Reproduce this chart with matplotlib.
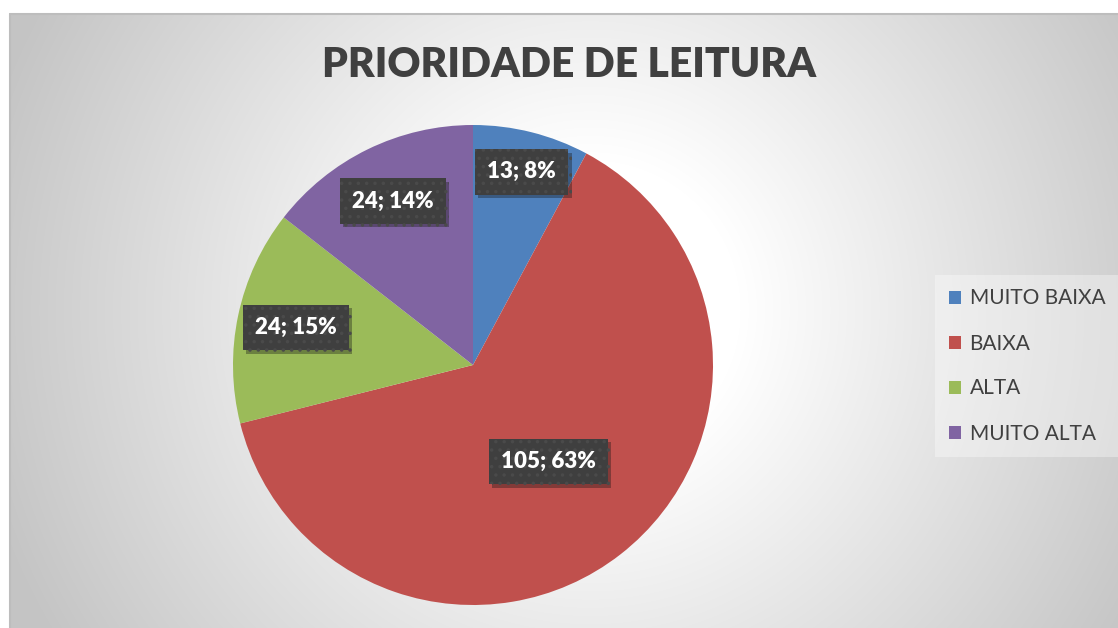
import matplotlib
matplotlib.use('Agg')
import matplotlib.pyplot as plt
import matplotlib.patheffects as pe
from matplotlib.patches import Patch
import numpy as np

title = 'PRIORIDADE DE LEITURA'
categories = ['MUITO BAIXA', 'BAIXA', 'ALTA', 'MUITO ALTA']
values = [13, 105, 24, 24]
pcts = [8, 63, 15, 14]   # as shown on the chart
colors = ['#4F81BD', '#C0504D', '#9BBB59', '#8064A2']

W, H = 1118, 628
plt.rcParams['font.family'] = ['Lato', 'DejaVu Sans']
plt.rcParams['hatch.linewidth'] = 1.3

fig = plt.figure(figsize=(W / 100, H / 100), dpi=100)

# background: radial gray gradient, white round the middle
bg = fig.add_axes([0, 0, 1, 1])
yy, xx = np.mgrid[0:H, 0:W]
d = np.hypot(xx - 590, yy - 310)
v = 1 - 0.23 * np.clip((d - 150) / 480, 0, 1)
img = np.dstack([v, v, v])
img[:, :9] = 1
img[:13, :] = 1
bg.imshow(img, extent=[0, W, H, 0], aspect='auto')
bg.plot([9.5, 9.5, W], [H, 13.5, 13.5], color='#bdbdbd', lw=1.5)
bg.set_xlim(0, W)
bg.set_ylim(H, 0)
bg.axis('off')

# pie, center (473, 365) px, radius 240 px
cx, cy, r = 473, 365, 240
ax = fig.add_axes([(cx - r) / W, (H - cy - r) / H, 2 * r / W, 2 * r / H])
wedges, _ = ax.pie(values, colors=colors, startangle=90, counterclock=False,
                   wedgeprops=dict(linewidth=0))
ax.set_xlim(-1, 1)
ax.set_ylim(-1, 1)
ax.set_aspect('equal')
ax.axis('off')

label_r = [0.83, 0.51, 0.755, 0.76]
for w, v_, p, lr in zip(wedges, values, pcts, label_r):
    ang = np.deg2rad((w.theta1 + w.theta2) / 2)
    x, y = lr * np.cos(ang), lr * np.sin(ang)
    t = ax.text(x, y, f'{v_}; {p}%', ha='center', va='center', fontsize=16,
                fontweight='heavy', color='white',
                bbox=dict(boxstyle='square,pad=0.55', facecolor='#3f3f3f',
                          edgecolor='#4a4a4a', linewidth=0, hatch='..'))
    t.get_bbox_patch().set_path_effects(
        [pe.SimplePatchShadow(offset=(2.5, -2.5), alpha=0.35), pe.Normal()])

fig.text(569 / W, 1 - 65 / H, title, ha='center', va='center',
         fontsize=29.3, fontweight='heavy', color='#404040')

handles = [Patch(facecolor=c, edgecolor='none') for c in colors]
leg = fig.legend(handles, categories, loc='center left',
                 bbox_to_anchor=(931 / W, 1 - 366 / H), frameon=True,
                 fontsize=15, labelspacing=1.2, handlelength=0.6,
                 handleheight=0.6, handletextpad=0.4, borderpad=0.35,
                 labelcolor='#404040')
leg.get_frame().set_facecolor('white')
leg.get_frame().set_alpha(0.35)
leg.get_frame().set_linewidth(0)
leg.get_frame().set_boxstyle('square')

fig.savefig('out.png', dpi=100)
